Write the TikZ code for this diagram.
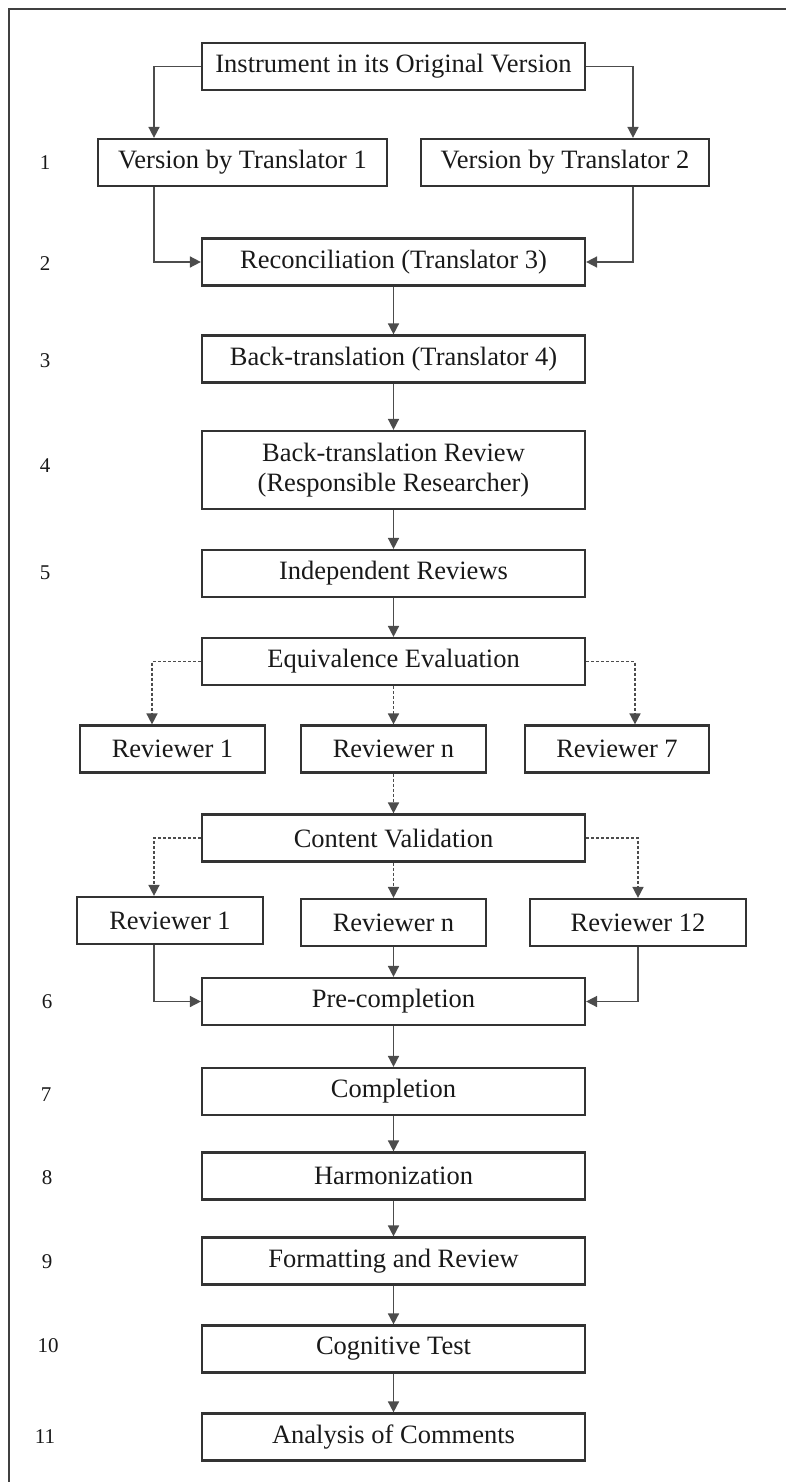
\documentclass[tikz,border=0pt]{standalone}
\usepackage{fontspec}
\setmainfont{Liberation Serif}
\usetikzlibrary{arrows.meta}

\begin{document}
\begin{tikzpicture}
    [x=1pt, y=-1pt,
    every node/.style={font=\fontsize{26.5}{30}\selectfont, text=black!90},
    box/.style={draw=black!80, line width=2.2pt, inner sep=0pt, minimum height=47pt, align=center},
    wide/.style={box, minimum width=383pt},
    stepno/.style={font=\fontsize{21}{24}\selectfont},
    link/.style={draw=black!70, line width=1.6pt, -{Triangle[length=11pt,width=11pt]}},
    maybe/.style={link, dash pattern=on 3pt off 2pt}
    ]
    \useasboundingbox (0,0) rectangle (786,1482);
    \draw [draw=black!75, line width=2pt] (9,1482) -- (9,9) -- (786,9);

    % main column
    \node (orig)    [wide] at (393.5,66.5) {Instrument in its Original Version};
    \node (recon)   [wide] at (393.5,262)  {Reconciliation (Translator 3)};
    \node (back)    [wide] at (393.5,359)  {Back-translation (Translator 4)};
    \node (backrev) [wide, minimum height=78pt] at (393.5,470) {Back-translation Review\\(Responsible Researcher)};
    \node (indep)   [wide] at (393.5,573.5) {Independent Reviews};
    \node (equiv)   [wide] at (393.5,661.5) {Equivalence Evaluation};
    \node (content) [wide] at (393.5,838)  {Content Validation};
    \node (pre)     [wide] at (393.5,1001.5) {Pre-completion};
    \node (compl)   [wide] at (393.5,1091.5) {Completion};
    \node (harmon)  [wide] at (393.5,1176) {Harmonization};
    \node (format)  [wide] at (393.5,1261) {Formatting and Review};
    \node (cogn)    [wide] at (393.5,1349) {Cognitive Test};
    \node (comments) [wide] at (393.5,1437) {Analysis of Comments};

    % side boxes
    \node (trans1) [box, minimum width=289pt] at (242.5,162.5) {Version by Translator 1};
    \node (trans2) [box, minimum width=288pt] at (565,162.5)   {Version by Translator 2};
    \node (evalA)  [box, minimum width=185pt] at (172.5,749) {Reviewer 1};
    \node (evalN)  [box, minimum width=185pt] at (393.5,749) {Reviewer n};
    \node (evalG)  [box, minimum width=184pt] at (617,749)   {Reviewer 7};
    \node (valA)   [box, minimum width=186pt] at (170,920.5) {Reviewer 1};
    \node (valN)   [box, minimum width=185pt] at (393.5,922.5) {Reviewer n};
    \node (valL)   [box, minimum width=216pt] at (638,922.5) {Reviewer 12};

    % step numbers
    \node (s1)  [stepno] at (45,162.5) {1};
    \node (s2)  [stepno] at (45,264)   {2};
    \node (s3)  [stepno] at (45,361)   {3};
    \node (s4)  [stepno] at (45,466)   {4};
    \node (s5)  [stepno] at (45,573)   {5};
    \node (s6)  [stepno] at (47,1002)  {6};
    \node (s7)  [stepno] at (46,1095)  {7};
    \node (s8)  [stepno] at (47,1178)  {8};
    \node (s9)  [stepno] at (47,1262)  {9};
    \node (s10) [stepno] at (48,1346)  {10};
    \node (s11) [stepno] at (45,1437)  {11};

    % connectors
    \draw [link] (orig.west) -| ([xshift=-88.5pt]trans1.north);
    \draw [link] (orig.east) -| ([xshift=68pt]trans2.north);
    \draw [link] ([xshift=-88.5pt]trans1.south) |- (recon.west);
    \draw [link] ([xshift=68pt]trans2.south) |- (recon.east);
    \draw [link] (recon) -- (back);
    \draw [link] (back) -- (backrev);
    \draw [link] (backrev) -- (indep);
    \draw [link] (indep) -- (equiv);
    \draw [maybe] (equiv.west) -| ([xshift=-20.5pt]evalA.north);
    \draw [maybe] (equiv.south) -- (evalN.north);
    \draw [maybe] (equiv.east) -| ([xshift=18pt]evalG.north);
    \draw [maybe] (evalN.south) -- (content.north);
    \draw [maybe] (content.west) -| ([xshift=-16pt]valA.north);
    \draw [maybe] (content.south) -- (valN.north);
    \draw [maybe] (content.east) -| (valL.north);
    \draw [link] ([xshift=-16pt]valA.south) |- (pre.west);
    \draw [link] (valN.south) -- (pre.north);
    \draw [link] (valL.south) |- (pre.east);
    \draw [link] (pre) -- (compl);
    \draw [link] (compl) -- (harmon);
    \draw [link] (harmon) -- (format);
    \draw [link] (format) -- (cogn);
    \draw [link] (cogn) -- (comments);
\end{tikzpicture}
\end{document}
